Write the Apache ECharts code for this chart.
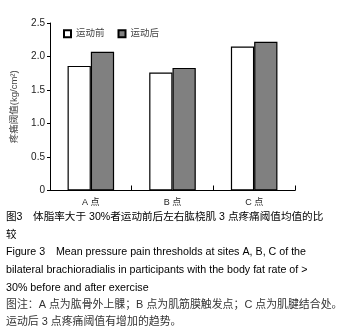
<!DOCTYPE html>
<html><head><meta charset="utf-8">
<script src="https://cdn.jsdelivr.net/npm/echarts@6/dist/echarts.min.js"></script>
<style>html,body{margin:0;padding:0;background:#fff}#c{width:340px;height:332px}</style>
</head><body><div id="c"></div>
<script>
const categories = ['A 点', 'B 点', 'C 点'];
const seriesNames = ['运动前', '运动后'];
const before = [1.86, 1.76, 2.15];
const after = [2.07, 1.83, 2.22];
const yTicks = [0, 0.5, 1.0, 1.5, 2.0, 2.5];
const yTitle = '疼痛阈值(kg/cm²)';
const captionLines = [
  '图3　体脂率大于 30%者运动前后左右肱桡肌 3 点疼痛阈值均值的比',
  '较',
  'Figure 3　Mean pressure pain thresholds at sites A, B, C of the',
  'bilateral brachioradialis in participants with the body fat rate of >',
  '30% before and after exercise',
  '图注：A 点为肱骨外上髁；B 点为肌筋膜触发点；C 点为肌腱结合处。',
  '运动后 3 点疼痛阈值有增加的趋势。'
];
const captionY = [219, 237, 254, 272, 290, 307, 324];
const captionColor = ['#000','#000','#000','#000','#000','#333','#333'];
const captionSize = [10.6, 10.6, 10.7, 10.7, 10.7, 10.9, 10.9];

const chart = echarts.init(document.getElementById('c'));
const font = 'Arial, "Liberation Sans", "Noto Sans CJK SC", sans-serif';
chart.setOption({
  animation: false,
  textStyle: {fontFamily: font},
  grid: {left: 50, top: 23, width: 245, height: 167.5},
  legend: {
    data: seriesNames, left: 58, top: 24, itemWidth: 7, itemHeight: 7, itemGap: 13,
    icon: 'rect',
    textStyle: {fontSize: 9.5, color: '#444', fontFamily: font}
  },
  xAxis: {
    type: 'category', data: categories,
    axisLine: {lineStyle: {color: '#000', width: 1}},
    axisTick: {show: true, inside: true, length: 5, lineStyle: {color: '#000'}},
    axisLabel: {fontSize: 9, color: '#222', margin: 8}
  },
  yAxis: {
    type: 'value', min: 0, max: 2.5, interval: 0.5,
    name: yTitle, nameLocation: 'middle', nameGap: 31, nameRotate: 90,
    nameTextStyle: {fontSize: 9.5, color: '#444'},
    axisLine: {show: true, lineStyle: {color: '#000'}},
    axisTick: {show: true, length: 3, lineStyle: {color: '#000'}},
    splitLine: {show: false},
    axisLabel: {fontSize: 10, color: '#222', margin: 5,
      formatter: v => (yTicks.includes(v) ? (v === 0 ? '0' : v.toFixed(1)) : '')}
  },
  series: [
    {name: seriesNames[0], type: 'bar', data: before, barGap: '0%', barCategoryGap: '43%',
     itemStyle: {color: '#fff', borderColor: '#000', borderWidth: 1.2}},
    {name: seriesNames[1], type: 'bar', data: after,
     itemStyle: {color: '#808080', borderColor: '#000', borderWidth: 1.2}}
  ],
  graphic: captionLines.map((t, i) => ({
    type: 'text', left: 6, top: captionY[i] - 7,
    style: {text: t, fontSize: captionSize[i], fill: captionColor[i], fontFamily: font}
  }))
});
</script></body></html>
